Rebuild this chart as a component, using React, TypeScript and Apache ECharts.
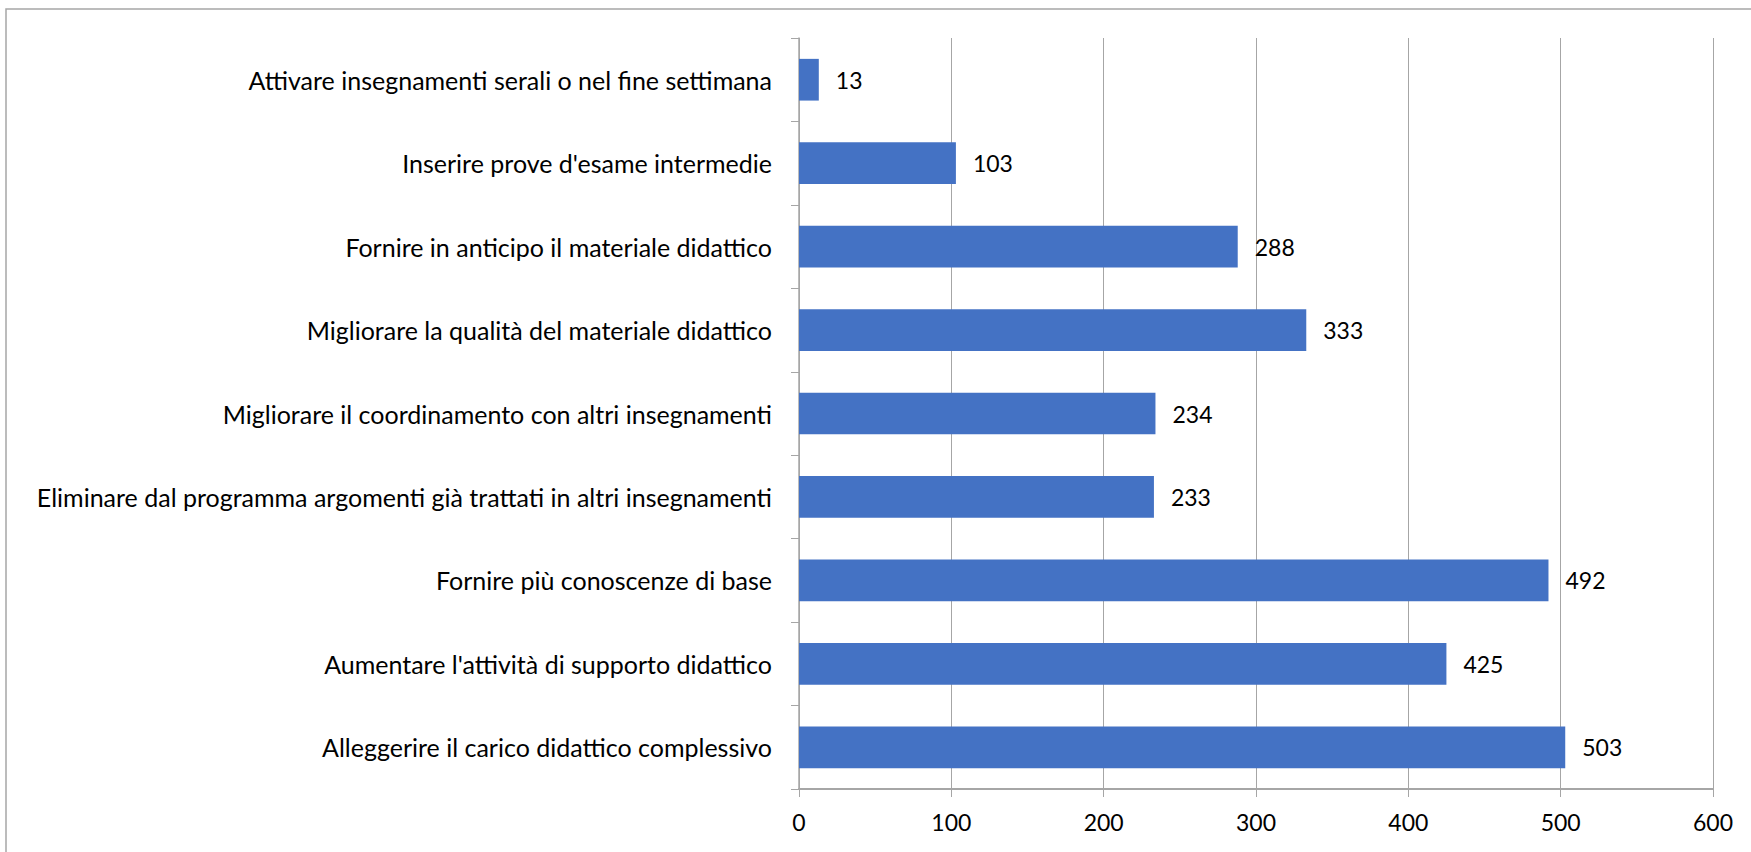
import React, { useEffect, useRef } from "react";
import * as echarts from "echarts";

const categories = [
  "Attivare insegnamenti serali o nel fine settimana",
  "Inserire prove d'esame intermedie",
  "Fornire in anticipo il materiale didattico",
  "Migliorare la qualità del materiale didattico",
  "Migliorare il coordinamento con altri insegnamenti",
  "Eliminare dal programma argomenti già trattati in altri insegnamenti",
  "Fornire più conoscenze di base",
  "Aumentare l'attività di supporto didattico",
  "Alleggerire il carico didattico complessivo",
];
const values = [13, 103, 288, 333, 234, 233, 492, 425, 503];

const FONT = "Lato";

export default function App() {
  const ref = useRef<HTMLDivElement>(null);
  useEffect(() => {
    if (!ref.current) return;
    const chart = echarts.init(ref.current, null, { renderer: "svg" });
    chart.setOption({
      animation: false,
      backgroundColor: "#ffffff",
      graphic: [
        {
          type: "rect",
          shape: { x: 6, y: 9, width: 1800, height: 900 },
          style: { fill: "none", stroke: "#A6A6A6", lineWidth: 1.5 },
          silent: true,
        },
      ],
      grid: { left: 799, right: 38, top: 38, bottom: 63, containLabel: false },
      xAxis: {
        type: "value",
        min: 0,
        max: 600,
        interval: 100,
        axisLine: { show: true, lineStyle: { color: "#A6A6A6", width: 2 } },
        axisTick: { show: true, length: 8, lineStyle: { color: "#A6A6A6", width: 1 } },
        splitLine: { show: true, lineStyle: { color: "#A6A6A6", width: 1 } },
        axisLabel: { color: "#000", fontSize: 23, fontFamily: FONT, margin: 21 },
      },
      yAxis: {
        type: "category",
        inverse: true,
        data: categories,
        axisLine: { show: true, lineStyle: { color: "#A6A6A6", width: 1.5 } },
        axisTick: { show: true, length: 8, lineStyle: { color: "#A6A6A6", width: 1 } },
        axisLabel: { color: "#000", fontSize: 25, fontFamily: FONT, margin: 27 },
      },
      series: [
        {
          type: "bar",
          data: values,
          barCategoryGap: "50%",
          itemStyle: { color: "#4472C4" },
          label: {
            show: true,
            position: "right",
            distance: 17,
            color: "#000",
            fontSize: 23,
            fontFamily: FONT,
          },
        },
      ],
    });
    return () => chart.dispose();
  }, []);
  return (
    <div
      ref={ref}
      style={{ position: "fixed", left: 0, top: 0, width: 1751, height: 852 }}
    />
  );
}
